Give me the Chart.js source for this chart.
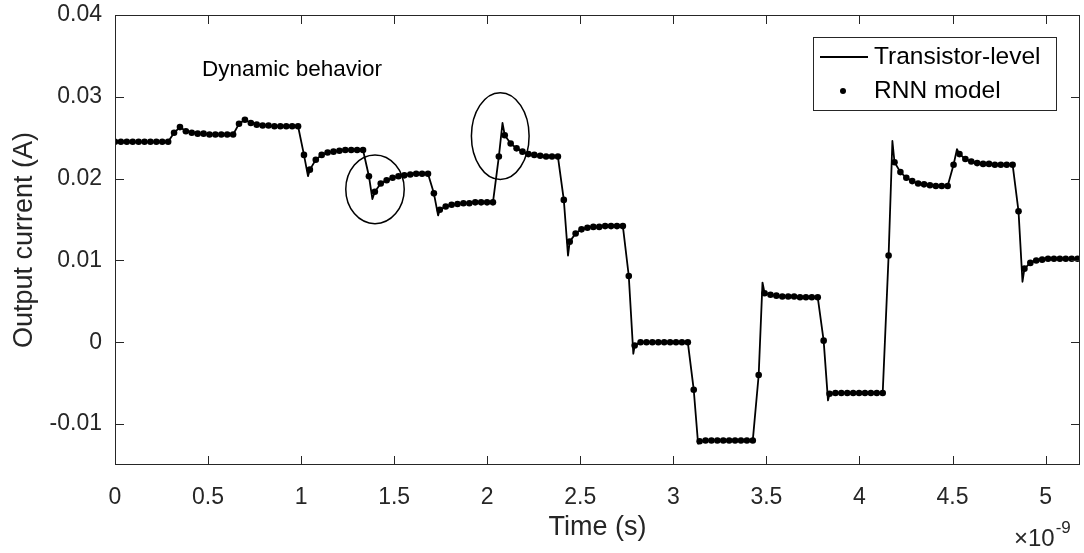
<!DOCTYPE html>
<html>
<head>
<meta charset="utf-8">
<script src="https://cdn.jsdelivr.net/npm/chart.js@4.4.1/dist/chart.umd.min.js"></script>
<style>
  html, body { margin: 0; padding: 0; background: #fff; }
  canvas { display: block; }
</style>
</head>
<body>
<canvas id="chart" width="1084" height="553"></canvas>
<script>
// RNN model output, one sample every sampleStep (x1e-9 s), first at t = 0
const sampleStep = 0.03173;
const rnnCurrent = [
  0.0245, 0.0245, 0.0245, 0.0245, 0.0245, 0.0245, 0.0245, 0.0245, 0.0245, 0.0245,
  0.0256, 0.0263, 0.0258, 0.0256, 0.0255, 0.0255, 0.0254, 0.0254, 0.0254, 0.0254, 0.0254,
  0.0267, 0.0272, 0.0268, 0.0266, 0.0265, 0.0265, 0.0264, 0.0264, 0.0264, 0.0264, 0.0264,
  0.0229, 0.0211, 0.0223, 0.0229, 0.0232, 0.0233, 0.0234, 0.0235, 0.0235, 0.0235, 0.0235,
  0.0203, 0.0184, 0.0194, 0.0198, 0.0201, 0.0203, 0.0204, 0.0205, 0.0206, 0.0206, 0.0206,
  0.0182, 0.0162, 0.0166, 0.0168, 0.0169, 0.0170, 0.0170, 0.0171, 0.0171, 0.0171, 0.0171,
  0.0227, 0.0253, 0.0243, 0.0237, 0.0233, 0.0230, 0.0229, 0.0228, 0.0227, 0.0227, 0.0227,
  0.0174, 0.0123, 0.0133, 0.0138, 0.0140, 0.0141, 0.0141, 0.0142, 0.0142, 0.0142, 0.0142,
  0.0081, -0.0004, 0.0000, 0.0000, 0.0000, 0.0000, 0.0000, 0.0000, 0.0000, 0.0000, 0.0000,
  -0.0058, -0.0121, -0.0120, -0.0120, -0.0120, -0.0120, -0.0120, -0.0120, -0.0120, -0.0120, -0.0120,
  -0.0040, 0.0060, 0.0058, 0.0057, 0.0056, 0.0056, 0.0056, 0.0055, 0.0055, 0.0055, 0.0055,
  0.0002, -0.0063, -0.0062, -0.0062, -0.0062, -0.0062, -0.0062, -0.0062, -0.0062, -0.0062, -0.0062,
  0.0106, 0.0220, 0.0208, 0.0201, 0.0197, 0.0194, 0.0193, 0.0192, 0.0191, 0.0191, 0.0191,
  0.0217, 0.0230, 0.0224, 0.0221, 0.0219, 0.0218, 0.0218, 0.0217, 0.0217, 0.0217, 0.0217,
  0.0160, 0.0090, 0.0097, 0.0100, 0.0101, 0.0102, 0.0102, 0.0102, 0.0102, 0.0102, 0.0102
];
// transistor-level overshoots that fall between RNN samples: [t (x1e-9 s), current (A)]
const transistorSpikes = [
  [1.037, 0.0203], [1.383, 0.0175], [1.736, 0.0155], [2.082, 0.0268],
  [2.434, 0.0106], [2.785, -0.0014], [3.133, -0.0124], [3.479, 0.0073],
  [3.831, -0.0071], [4.177, 0.0246], [4.524, 0.0236], [4.876, 0.0074]
];
const xTickValues = [0, 0.5, 1, 1.5, 2, 2.5, 3, 3.5, 4, 4.5, 5];
const xTickLabels = ['0', '0.5', '1', '1.5', '2', '2.5', '3', '3.5', '4', '4.5', '5'];
const yTickValues = [-0.01, 0, 0.01, 0.02, 0.03, 0.04];
const yTickLabels = ['-0.01', '0', '0.01', '0.02', '0.03', '0.04'];

// highlighted overshoots (centre and half-sizes in data units)
const circledRegions = [
  { t: 1.397, i: 0.0187, dt: 0.157, di: 0.0042 },
  { t: 2.07, i: 0.0252, dt: 0.155, di: 0.0053 }
];

const FONT = '"Liberation Sans", Arial, Helvetica, sans-serif';
const INK = '#262626';

const rnnPoints = rnnCurrent.map((v, k) => ({ x: k * sampleStep, y: v }));
const transistorPoints = rnnPoints
  .concat(transistorSpikes.map(p => ({ x: p[0], y: p[1] })))
  .sort((a, b) => a.x - b.x);

const matlabFrame = {
  id: 'matlabFrame',
  afterDatasetsDraw(chart) {
    const ctx = chart.ctx, a = chart.chartArea;
    const xs = chart.scales.x, ys = chart.scales.y;
    ctx.save();

    // circles round the overshoots
    ctx.strokeStyle = '#000';
    ctx.lineWidth = 1.5;
    circledRegions.forEach(c => {
      const cx = xs.getPixelForValue(c.t), cy = ys.getPixelForValue(c.i);
      const rx = xs.getPixelForValue(c.t + c.dt) - cx;
      const ry = cy - ys.getPixelForValue(c.i + c.di);
      ctx.beginPath();
      ctx.ellipse(cx, cy, rx, ry, 0, 0, Math.PI * 2);
      ctx.stroke();
    });

    // box and inward ticks on all four sides
    ctx.strokeStyle = INK;
    ctx.lineWidth = 1;
    ctx.strokeRect(a.left + 0.5, a.top + 0.5, a.right - a.left - 1, a.bottom - a.top - 1);
    const tl = 9;
    ctx.beginPath();
    xTickValues.forEach(v => {
      const px = Math.round(xs.getPixelForValue(v)) + 0.5;
      ctx.moveTo(px, a.bottom); ctx.lineTo(px, a.bottom - tl);
      ctx.moveTo(px, a.top); ctx.lineTo(px, a.top + tl);
    });
    yTickValues.forEach(v => {
      const py = Math.round(ys.getPixelForValue(v)) + 0.5;
      ctx.moveTo(a.left, py); ctx.lineTo(a.left + tl, py);
      ctx.moveTo(a.right, py); ctx.lineTo(a.right - tl, py);
    });
    ctx.stroke();

    // exponent label
    ctx.fillStyle = INK;
    ctx.textBaseline = 'alphabetic';
    ctx.textAlign = 'left';
    ctx.font = '24px ' + FONT;
    ctx.fillText('\u00d710', 1014, 546);
    const w = ctx.measureText('\u00d710').width;
    ctx.font = '17px ' + FONT;
    ctx.fillText('-9', 1014 + w + 1, 533);

    // annotation
    ctx.fillStyle = '#000';
    ctx.font = '22.5px ' + FONT;
    ctx.fillText('Dynamic behavior', 202, 76);

    // legend
    const lx = 813, ly = 37, lw = 243, lh = 73;
    ctx.fillStyle = '#fff';
    ctx.fillRect(lx, ly, lw, lh);
    ctx.strokeStyle = INK;
    ctx.strokeRect(lx + 0.5, ly + 0.5, lw, lh);
    ctx.strokeStyle = '#000';
    ctx.lineWidth = 2;
    ctx.beginPath();
    ctx.moveTo(820, 57); ctx.lineTo(868, 57);
    ctx.stroke();
    ctx.fillStyle = '#000';
    ctx.beginPath();
    ctx.arc(843, 91, 3, 0, Math.PI * 2);
    ctx.fill();
    ctx.font = '24.5px ' + FONT;
    ctx.textBaseline = 'middle';
    ctx.fillText('Transistor-level', 874, 57);
    ctx.fillText('RNN model', 874, 91);

    ctx.restore();
  }
};

new Chart(document.getElementById('chart'), {
  type: 'scatter',
  data: {
    datasets: [
      {
        label: 'Transistor-level',
        data: transistorPoints,
        showLine: true,
        borderColor: '#000',
        borderWidth: 1.8,
        borderJoinStyle: 'round',
        pointRadius: 0,
        tension: 0
      },
      {
        label: 'RNN model',
        data: rnnPoints,
        showLine: false,
        pointRadius: 3.3,
        pointBackgroundColor: '#000',
        pointBorderWidth: 0
      }
    ]
  },
  options: {
    responsive: false,
    animation: false,
    devicePixelRatio: 1,
    layout: { padding: { left: 0, right: 3, top: 15, bottom: 0 } },
    plugins: { legend: { display: false }, tooltip: { enabled: false } },
    scales: {
      x: {
        type: 'linear',
        min: 0,
        max: 5.185,
        afterBuildTicks: s => { s.ticks = xTickValues.map(v => ({ value: v })); },
        afterFit: s => { s.height = 88; s.paddingLeft = 0; s.paddingRight = 0; },
        grid: { display: false, drawTicks: false },
        border: { display: false },
        ticks: {
          padding: 19,
          color: INK,
          font: { family: FONT, size: 23 },
          maxRotation: 0,
          autoSkip: false,
          callback: v => xTickLabels[xTickValues.indexOf(v)]
        },
        title: {
          display: true,
          text: 'Time (s)',
          color: INK,
          font: { family: FONT, size: 27 },
          padding: { top: 0, bottom: 9 }
        }
      },
      y: {
        type: 'linear',
        min: -0.015,
        max: 0.04,
        afterBuildTicks: s => { s.ticks = yTickValues.map(v => ({ value: v })); },
        afterFit: s => { s.width = 115; s.paddingTop = 0; s.paddingBottom = 0; },
        grid: { display: false, drawTicks: false },
        border: { display: false },
        ticks: {
          padding: 13,
          color: INK,
          font: { family: FONT, size: 23 },
          autoSkip: false,
          callback: v => yTickLabels[yTickValues.indexOf(v)]
        },
        title: {
          display: true,
          text: 'Output current (A)',
          color: INK,
          font: { family: FONT, size: 27 },
          padding: { top: 8, bottom: 0 }
        }
      }
    }
  },
  plugins: [matlabFrame]
});
</script>
</body>
</html>
